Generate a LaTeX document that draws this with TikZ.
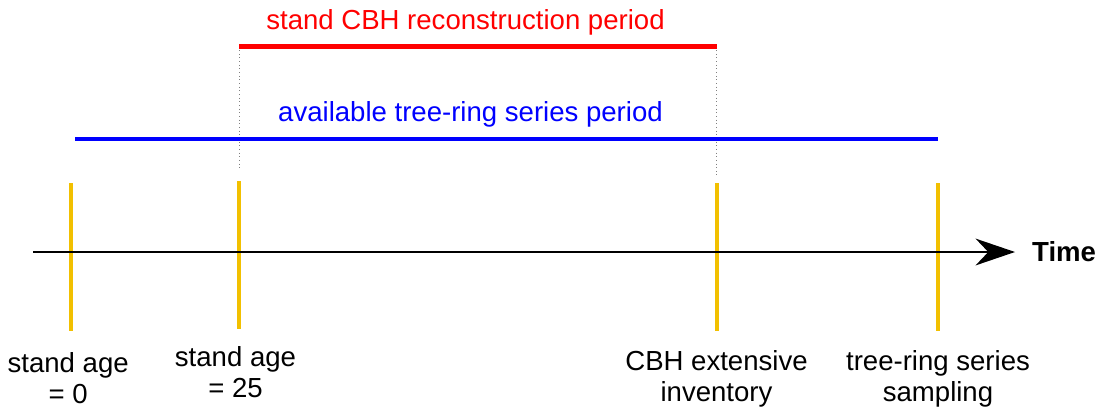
\documentclass[tikz,border=0pt]{standalone}
\usepackage{fontspec}
\setmainfont{Liberation Sans}
\usepackage{tikz}
\usetikzlibrary{arrows.meta,positioning}
\usepackage{xcolor}
\definecolor{tickyellow}{RGB}{242,192,0}

\begin{document}
\begin{tikzpicture}[x=0.025cm,y=-0.025cm,line cap=butt,
  font=\fontsize{19.6pt}{22pt}\selectfont,
  axis/.style={line width=1.8pt,-{Stealth[length=28pt,width=19pt,inset=9pt]}},
  tick/.style={tickyellow,line width=2.85pt},
  span/.style={line width=2.85pt},
  guide/.style={gray,line width=0.6pt,dash pattern=on 0.6pt off 2pt},
  lbl/.style={align=center,inner sep=0pt}]
\useasboundingbox (0,0) rectangle (1102,409);
% time axis
\coordinate (axisL) at (33,252);
\coordinate (axisR) at (1015,252);
% ticks
\coordinate (age0) at (71,183);    \coordinate (age0b) at (71,331);
\coordinate (age25) at (239,181);  \coordinate (age25b) at (239,329);
\coordinate (inv) at (716.5,183);  \coordinate (invb) at (716.5,331);
\coordinate (samp) at (938,183);   \coordinate (sampb) at (938,331);
% periods
\coordinate (recL) at (239,46.5);  \coordinate (recR) at (716.5,46.5);
\coordinate (avL) at (75,138.5);   \coordinate (avR) at (938,138.5);
\coordinate (guideL) at (239,170); \coordinate (guideR) at (716.5,176);

\draw[guide] (recL) -- (guideL);
\draw[guide] (recR) -- (guideR);
\draw[span,red] (recL) -- (recR);
\draw[span,blue] (avL) -- (avR);
\node[red,anchor=base] (recon) at (465.5,29) {stand CBH reconstruction period};
\node[blue,anchor=base] (avail) at (470.5,121) {available tree-ring series period};

\draw[tick] (age0) -- (age0b);
\draw[tick] (age25) -- (age25b);
\draw[tick] (inv) -- (invb);
\draw[tick] (samp) -- (sampb);
\draw[axis] (axisL) -- (axisR);
\node[right=12pt of axisR,inner sep=0pt,font=\fontsize{19.6pt}{22pt}\selectfont\bfseries] (time) {Time};

\node[lbl,below=15pt of age0b,xshift=-2pt] (lab0) {stand age\\= 0};
\node[lbl,below=12pt of age25b,xshift=-2.5pt] (lab25) {stand age\\= 25};
\node[lbl,below=14pt of invb] (labinv) {CBH extensive\\inventory};
\node[lbl,below=14pt of sampb] (labsamp) {tree-ring series\\sampling};
\end{tikzpicture}
\end{document}
